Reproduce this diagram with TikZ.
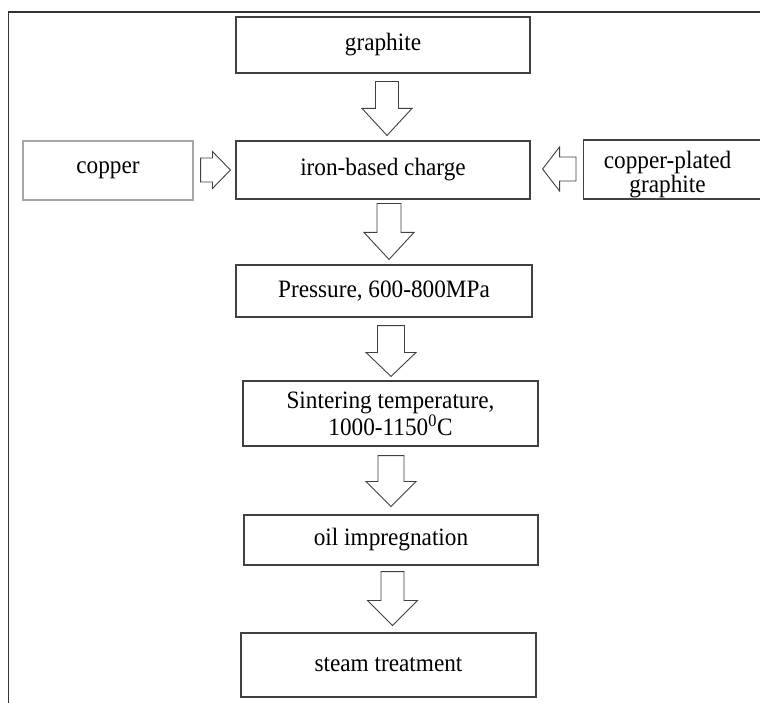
\documentclass[tikz,border=0pt]{standalone}
\usepackage{fontspec}
\setmainfont{Liberation Serif}[FakeStretch=0.93]
\usetikzlibrary{calc}
\tikzset{
  box/.style={draw=black!75, line width=1.1pt, rectangle, inner sep=0pt,
    font=\fontsize{25}{27}\selectfont, align=center, fill=white},
  lightbox/.style={box, draw=black!35},
  blk/.style={draw=black!75, line width=0.9pt, fill=white, line join=miter},
  frame/.style={draw=black!80, line width=1.3pt},
}
% #1 tail, #2 tip, #3 shaft half width, #4 head half width, #5 head length
\newcommand\blkdown[5]{%
  \draw[blk] let \p1=(#1), \p2=(#2) in
    (\x2-#3pt,\y1) -- (\x2-#3pt,\y2+#5pt) -- (\x2-#4pt,\y2+#5pt) -- (\x2,\y2)
    -- (\x2+#4pt,\y2+#5pt) -- (\x2+#3pt,\y2+#5pt) -- (\x2+#3pt,\y1) -- cycle;}
\newcommand\blkright[5]{%
  \draw[blk] let \p1=(#1), \p2=(#2) in
    (\x1,\y2+#3pt) -- (\x2-#5pt,\y2+#3pt) -- (\x2-#5pt,\y2+#4pt) -- (\x2,\y2)
    -- (\x2-#5pt,\y2-#4pt) -- (\x2-#5pt,\y2-#3pt) -- (\x1,\y2-#3pt) -- cycle;}
\newcommand\blkleft[5]{%
  \draw[blk] let \p1=(#1), \p2=(#2) in
    (\x1,\y2+#3pt) -- (\x2+#5pt,\y2+#3pt) -- (\x2+#5pt,\y2+#4pt) -- (\x2,\y2)
    -- (\x2+#5pt,\y2-#4pt) -- (\x2+#5pt,\y2-#3pt) -- (\x1,\y2-#3pt) -- cycle;}
\begin{document}
\begin{tikzpicture}[x=1pt,y=-1pt]
\useasboundingbox (0,0) rectangle (760,703);
\fill[white] (0,0) rectangle (760,703);
% outer frame (open to the right and bottom)
\coordinate (fbl) at (8.5,705);
\coordinate (ftl) at (8.5,12);
\coordinate (ftr) at (765,12);
\draw[frame] (fbl) -- (ftl) -- (ftr);

\node[box, minimum width=294, minimum height=56] (graphite) at (383,45) {graphite};
\node[box, minimum width=294, minimum height=58] (iron) at (383,170) {iron-based charge};
\node[lightbox, minimum width=170, minimum height=59] (copper) at (108,170.5) {copper};
\node[box, minimum width=190, minimum height=59, anchor=west,
  label={[font=\fontsize{25}{24}\selectfont, align=center, xshift=-11pt, yshift=-5pt]center:copper-plated\\graphite}]
  (cpg) at (583,169.5) {};
\node[box, minimum width=296, minimum height=52] (pressure) at (384,291) {Pressure, 600-800MPa};
\node[box, minimum width=295, minimum height=65] (sinter) at (390.5,413.5)
  {Sintering temperature,\\1000-1150\textsuperscript{0}C};
\node[box, minimum width=294, minimum height=50] (oil) at (391,540) {oil impregnation};
\node[box, minimum width=295, minimum height=64] (steam) at (388.5,665) {steam treatment};

\coordinate (a1s) at ($(graphite.south)+(4,8)$);
\coordinate (a1e) at ($(iron.north)+(4,-5)$);
\coordinate (a2s) at ($(iron.south)+(6,4)$);
\coordinate (a2e) at ($(pressure.north)+(5,-5)$);
\coordinate (a3s) at ($(pressure.south)+(7,8)$);
\coordinate (a3e) at ($(sinter.north)+(0.5,-4)$);
\coordinate (a4s) at ($(sinter.south)+(0.5,9)$);
\coordinate (a4e) at ($(oil.north)+(0,-8)$);
\coordinate (a5s) at ($(oil.south)+(1.5,6)$);
\coordinate (a5e) at ($(steam.north)+(4,-7)$);
\coordinate (a6s) at ($(copper.east)+(7,-0.5)$);
\coordinate (a6e) at ($(iron.west)+(-5,0)$);
\coordinate (a7s) at ($(cpg.west)+(-7,0)$);
\coordinate (a7e) at ($(iron.east)+(12,-1)$);

\blkdown{a1s}{a1e}{11.5}{25}{27}
\blkdown{a2s}{a2e}{12}{25}{27}
\blkdown{a3s}{a3e}{13.5}{25}{24}
\blkdown{a4s}{a4e}{13}{25}{25}
\blkdown{a5s}{a5e}{11.5}{25}{25}
\blkright{a6s}{a6e}{12}{18.5}{18}
\blkleft{a7s}{a7e}{12}{22}{17}
\end{tikzpicture}
\end{document}
